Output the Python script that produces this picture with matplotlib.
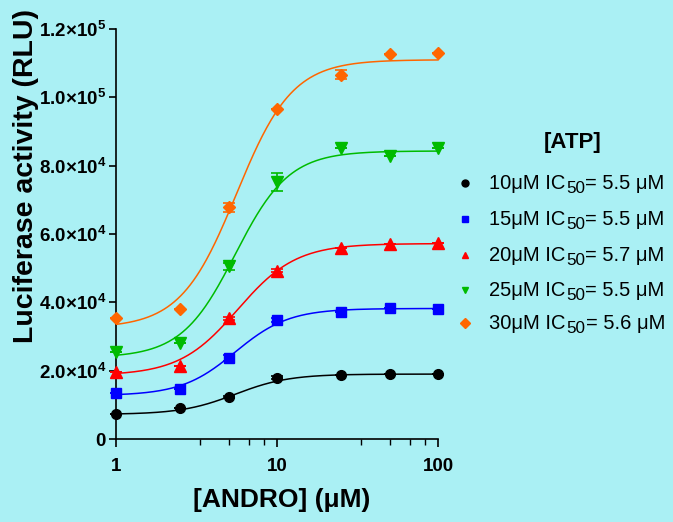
import numpy as np
import matplotlib
matplotlib.use("Agg")
import matplotlib.pyplot as plt

plt.rcParams['font.family'] = ['Liberation Sans', 'DejaVu Sans']
plt.rcParams['mathtext.fontset'] = 'custom'
plt.rcParams['mathtext.rm'] = 'Liberation Sans'
plt.rcParams['mathtext.bf'] = 'Liberation Sans:bold'

conc = [1, 2.5, 5, 10, 25, 50, 100]
labels = ["10μM", "15μM", "20μM", "25μM", "30μM"]
ic50_text = ["5.5", "5.5", "5.7", "5.5", "5.6"]
y10 = [7300, 9100, 12300, 17900, 18700, 18950, 19000]
y15 = [13400, 14600, 23700, 34800, 37300, 38300, 38100]
y20 = [19700, 21400, 35300, 49300, 55800, 57100, 57500]
y25 = [25600, 28200, 50500, 75300, 85300, 82900, 85100]
y30 = [35500, 38000, 67800, 96500, 106600, 112700, 113100]
e10 = [0, 0, 300, 400, 0, 0, 0]
e15 = [0, 0, 1000, 500, 0, 0, 0]
e20 = [0, 0, 500, 500, 0, 0, 0]
e25 = [0, 0, 1000, 2600, 0, 0, 0]
e30 = [0, 0, 1400, 0, 1300, 0, 0]
# fitted 4PL parameters (bottom, top, IC50, hill)
fit_bottom = [7200, 12700, 18600, 23800, 32500]
fit_top = [19000, 38200, 57200, 84300, 111000]
fit_ec50 = [5.5, 5.5, 5.7, 5.5, 5.6]
fit_hill = [2.6, 2.6, 2.4, 2.6, 2.5]

series = [y10, y15, y20, y25, y30]
errs = [e10, e15, e20, e25, e30]
colors = ["#000000", "#0000FF", "#FF0000", "#00BB00", "#FF6600"]
markers = ["o", "s", "^", "v", "D"]
msizes = [7, 7, 8, 8, 6]

bg = "#AAF0F4"
fig = plt.figure(figsize=(6.73, 5.22), dpi=100, facecolor=bg)
ax = fig.add_axes([116/673, 1-439/522, (438-116)/673, (439-29)/522])
ax.set_facecolor(bg)

xs = np.logspace(0, 2, 300)
for i in range(5):
    b, t, c, h = fit_bottom[i], fit_top[i], fit_ec50[i], fit_hill[i]
    curve = b + (t - b) / (1 + (c / xs) ** h)
    ax.plot(xs, curve, color=colors[i], lw=1.1, clip_on=False, zorder=2)
    ax.errorbar(conc, series[i], yerr=errs[i], fmt='none', ecolor=colors[i],
                elinewidth=1.2, capsize=4, capthick=1.2, clip_on=False, zorder=3)
    ax.plot(conc, series[i], linestyle='none', marker=markers[i], color=colors[i],
            markersize=msizes[i], clip_on=False, zorder=4)

ax.set_xscale('log')
ax.set_xlim(1, 100)
ax.set_ylim(0, 120000)
ax.spines['top'].set_visible(False)
ax.spines['right'].set_visible(False)
ax.spines['left'].set_linewidth(1.2)
ax.spines['bottom'].set_linewidth(1.2)

ax.set_xticks([1, 10, 100])
ax.set_xticklabels(["1", "10", "100"], fontsize=13.5, fontweight='bold')
ax.set_xticks([3.33, 5, 6.67, 8.33, 33.3, 50, 66.7, 83.3], minor=True)
ax.xaxis.set_minor_formatter(matplotlib.ticker.NullFormatter())
ax.tick_params(axis='x', which='major', length=6, width=1.2, pad=8)
ax.tick_params(axis='x', which='minor', length=4, width=1.0)

yt = [0, 20000, 40000, 60000, 80000, 100000, 120000]
ytl = ["$\\mathbf{0}$", r"$\mathbf{2.0{\times}10^{4}}$", r"$\mathbf{4.0{\times}10^{4}}$",
       r"$\mathbf{6.0{\times}10^{4}}$", r"$\mathbf{8.0{\times}10^{4}}$",
       r"$\mathbf{1.0{\times}10^{5}}$", r"$\mathbf{1.2{\times}10^{5}}$"]
ax.set_yticks(yt)
ax.set_yticklabels(ytl, fontsize=13.5)
ax.tick_params(axis='y', which='major', length=5, width=1.2, pad=2)

fig.text(282/673, 1-500/522, "[ANDRO] (μM)", fontsize=19, fontweight='bold',
         ha='center', va='center')
fig.text(26/673, 1-176/522, "Luciferase activity (RLU)", fontsize=20.5, fontweight='bold',
         ha='center', va='center', rotation=90)

fig.text(573/673, 1-142/522, "[ATP]", fontsize=16, fontweight='bold', ha='center', va='center')
rows = [183, 219, 255, 290, 323]
fs = 14.5
fig.canvas.draw()
renderer = fig.canvas.get_renderer()
for i in range(5):
    fig.lines.append(matplotlib.lines.Line2D([465/673], [1-rows[i]/522], transform=fig.transFigure,
                     marker=markers[i], color=colors[i], markersize=5, linestyle='none'))
    t1 = fig.text(489/673, 1-(rows[i]+6)/522, f"{labels[i]} IC", fontsize=fs,
                  ha='left', va='baseline')
    bb = t1.get_window_extent(renderer)
    x_sub = bb.x1 + 0.5
    t2 = fig.text(x_sub/673, 1-(rows[i]+10)/522, "50", fontsize=fs*0.85,
                  ha='left', va='baseline')
    bb2 = t2.get_window_extent(renderer)
    fig.text((bb2.x1 + 0.5)/673, 1-(rows[i]+6)/522, f"= {ic50_text[i]} μM", fontsize=fs,
             ha='left', va='baseline')

fig.savefig("out.png", dpi=100, facecolor=bg)
